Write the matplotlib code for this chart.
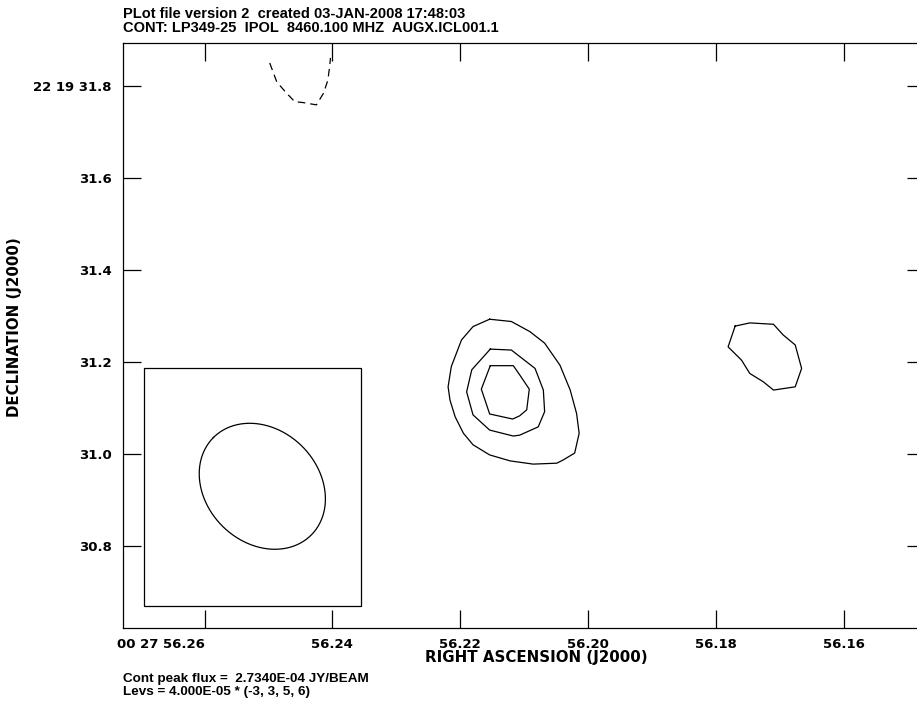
import numpy as np
import matplotlib
matplotlib.use('Agg')
import matplotlib.pyplot as plt
from matplotlib.patches import Rectangle

plt.rcParams['font.family'] = ['Liberation Sans', 'DejaVu Sans']
plt.rcParams['font.weight'] = 'bold'

# axis ticks (RA seconds of time, Dec arcsec)
ra_ticks = [56.26, 56.24, 56.22, 56.20, 56.18, 56.16]
ra_labels = ['00 27 56.26', '56.24', '56.22', '56.20', '56.18', '56.16']
dec_ticks = [30.8, 31.0, 31.2, 31.4, 31.6, 31.8]
dec_labels = ['30.8', '31.0', '31.2', '31.4', '31.6', '22 19 31.8']

# contour levels (multiples of 4.000E-05 JY/BEAM)
levs = [-3, 3, 5, 6]

# level -3 (dashed, open at map edge)
neg3_ra = [56.2498, 56.2487, 56.2474, 56.2459, 56.2446, 56.2425, 56.2414, 56.2407, 56.2404, 56.2403]
neg3_dec = [31.850, 31.809, 31.788, 31.766, 31.764, 31.759, 31.784, 31.813, 31.846, 31.861]

# level 3, main source
src3_ra = [56.2154, 56.2120, 56.2091, 56.2068, 56.2044, 56.2028, 56.2018, 56.2014, 56.2021, 56.2039,
           56.2049, 56.2086, 56.2122, 56.2154, 56.2180, 56.2195, 56.2208, 56.2216, 56.2219, 56.2214,
           56.2198, 56.2180]
src3_dec = [31.293, 31.288, 31.266, 31.241, 31.193, 31.139, 31.088, 31.045, 31.002, 30.987,
            30.980, 30.978, 30.985, 30.998, 31.020, 31.045, 31.081, 31.117, 31.146, 31.190,
            31.248, 31.277]

# level 5
src5_ra = [56.2153, 56.2120, 56.2083, 56.2070, 56.2068, 56.2078, 56.2107, 56.2117, 56.2154, 56.2180,
           56.2190, 56.2182]
src5_dec = [31.228, 31.226, 31.186, 31.139, 31.092, 31.059, 31.041, 31.039, 31.052, 31.085,
            31.135, 31.183]

# level 6
src6_ra = [56.2153, 56.2117, 56.2107, 56.2092, 56.2096, 56.2107, 56.2118, 56.2154, 56.2167]
src6_dec = [31.192, 31.192, 31.172, 31.141, 31.096, 31.083, 31.076, 31.087, 31.141]

# level 3, eastern blob
blob3_ra = [56.1770, 56.1747, 56.1710, 56.1695, 56.1676, 56.1666, 56.1676, 56.1710, 56.1726, 56.1747,
            56.1760, 56.1781]
blob3_dec = [31.278, 31.285, 31.282, 31.259, 31.237, 31.186, 31.146, 31.139, 31.157, 31.175,
             31.204, 31.233]

# restoring beam (arcsec, deg) and its box
beam_ra0, beam_dec0 = 56.25096, 30.9298
beam_bmaj, beam_bmin, beam_pa = 0.300, 0.245, 45.0
box_ra = [56.2695, 56.2355]
box_dec = [30.6696, 31.187]

ra_lim = [56.2728, 56.1473]
dec_lim = [30.6217, 31.8935]
dec_deg = 22.3254

fig = plt.figure(figsize=(9.17, 7.09), dpi=100)
W, H = 917, 709
ax = fig.add_axes([122.7 / W, 1 - 628 / H, (925 - 122.7) / W, (628 - 43) / H])

lw = 0.9
ax.plot(neg3_ra, neg3_dec, color='black', lw=lw, ls=(0, (6, 4)))
for xs, ys in [(src3_ra, src3_dec), (src5_ra, src5_dec), (src6_ra, src6_dec), (blob3_ra, blob3_dec)]:
    ax.plot(xs + xs[:1], ys + ys[:1], color='black', lw=lw)

# beam ellipse
t = np.linspace(0, 2 * np.pi, 200)
pa = np.radians(beam_pa)
u = beam_bmaj / 2 * np.cos(t)
v = beam_bmin / 2 * np.sin(t)
east = u * np.sin(pa) + v * np.cos(pa)
north = u * np.cos(pa) - v * np.sin(pa)
sec_per_arcsec = 1.0 / (15.0 * np.cos(np.radians(dec_deg)))
ax.plot(beam_ra0 + east * sec_per_arcsec, beam_dec0 + north, color='black', lw=lw)
ax.add_patch(Rectangle((box_ra[1], box_dec[0]), box_ra[0] - box_ra[1], box_dec[1] - box_dec[0],
                       fill=False, edgecolor='black', lw=lw))

# axis text uses a wider face to match the spaced-out AIPS labels
wide = ['DejaVu Sans']
ax.set_xlim(ra_lim)
ax.set_ylim(dec_lim)
ax.set_xticks(ra_ticks)
ax.set_xticklabels(ra_labels, family=wide, fontsize=9.5, fontweight='bold')
ax.set_yticks(dec_ticks)
ax.set_yticklabels(dec_labels, family=wide, fontsize=9.5, fontweight='bold')
ax.get_xticklabels()[0].set_horizontalalignment('right')
ax.tick_params(direction='in', length=13, width=0.9, top=True, right=True, colors='black')
ax.tick_params(axis='x', pad=7)
ax.tick_params(axis='y', pad=8)
for s in ax.spines.values():
    s.set_linewidth(0.9)

fig.text(123 / W, 1 - 18 / H, 'PLot file version 2  created 03-JAN-2008 17:48:03',
         fontsize=10.5, fontweight='bold', va='baseline')
fig.text(123 / W, 1 - 32 / H, 'CONT: LP349-25  IPOL  8460.100 MHZ  AUGX.ICL001.1',
         fontsize=10.5, fontweight='bold', va='baseline')
fig.text(536 / W, 1 - 662 / H, 'RIGHT ASCENSION (J2000)', family=wide, fontsize=10.8,
         fontweight='bold', ha='center', va='baseline')
fig.text(15 / W, 1 - 327 / H, 'DECLINATION (J2000)', family=wide, fontsize=10.8,
         fontweight='bold', rotation=90, ha='center', va='center')
fig.text(123 / W, 1 - 682 / H, 'Cont peak flux =  2.7340E-04 JY/BEAM',
         fontsize=9.7, fontweight='bold', va='baseline')
fig.text(123 / W, 1 - 694.5 / H, 'Levs = 4.000E-05 * (-3, 3, 5, 6)',
         fontsize=9.7, fontweight='bold', va='baseline')

fig.savefig('out.png', dpi=100)
